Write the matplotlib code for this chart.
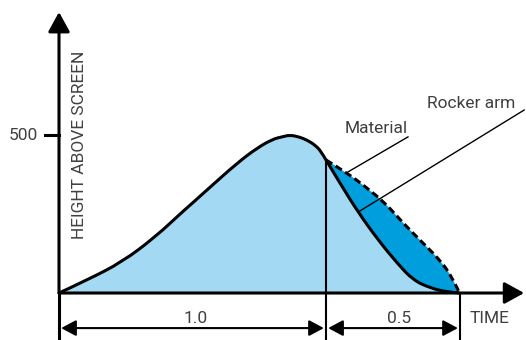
import matplotlib.pyplot as plt
from matplotlib.path import Path
from matplotlib.patches import PathPatch

# cam profile: height above screen vs time (rise, then fall back to the screen)
rise_t = [0.0, 0.105, 0.236, 0.360, 0.461, 0.491, 0.566, 0.667, 0.742, 0.801,
          0.835, 0.865, 0.899, 0.929, 0.959, 0.981, 1.0]
rise_h = [0, 41, 98, 177, 256, 278, 335, 411, 459, 487,
          494, 500, 494, 484, 468, 449, 421]

# material falling back (solid) and rocker arm return (dashed)
fall_t = [1.0, 1.052, 1.120, 1.195, 1.266, 1.326, 1.390, 1.453, 1.5]
fall_h = [421, 348, 256, 168, 95, 41, 16, 3, 0]
arm_t = [1.0, 1.079, 1.154, 1.221, 1.288, 1.363, 1.427, 1.472, 1.5]
arm_h = [421, 380, 332, 285, 222, 158, 104, 51, 0]

spans = [1.0, 0.5]
span_labels = ["1.0", "0.5"]
tick_value = 500

light = "#a3d9f2"
dark = "#009edc"
ink = "#404040"
fs = 12.5
plt.rcParams["font.family"] = ["Roboto", "DejaVu Sans"]


def smooth(ts, hs):
    # quadratic bezier through the midpoints, using each point as control
    pts = list(zip(ts, hs))
    verts = [pts[0]]
    codes = [Path.MOVETO]
    for i in range(1, len(pts) - 1):
        mid = ((pts[i][0] + pts[i + 1][0]) / 2, (pts[i][1] + pts[i + 1][1]) / 2)
        if i == len(pts) - 2:
            mid = pts[-1]
        verts += [pts[i], mid]
        codes += [Path.CURVE3, Path.CURVE3]
    return verts, codes


fig = plt.figure(figsize=(5.26, 3.40), dpi=100)
ax = fig.add_axes([0, 0, 1, 1])
ax.set_xlim(-0.221, 1.749)
ax.set_ylim(-148.7, 927.2)
ax.axis("off")

pv, pc = smooth(rise_t, rise_h)
fv, fc = smooth(fall_t, fall_h)
av, ac = smooth(arm_t, arm_h)

# light area under the material curve
verts = pv + fv[1:] + [(0, 0), (0, 0)]
codes = pc + fc[1:] + [Path.LINETO, Path.CLOSEPOLY]
ax.add_patch(PathPatch(Path(verts, codes), facecolor=light, lw=0))

# dark area between the material and the rocker arm
rv, rc = smooth(fall_t[::-1], fall_h[::-1])
verts = av + rv[1:] + [av[0]]
codes = ac + rc[1:] + [Path.CLOSEPOLY]
ax.add_patch(PathPatch(Path(verts, codes), facecolor=dark, lw=0))

t1 = spans[0]
t2 = spans[0] + spans[1]
ax.plot([t1, t1], [-148.7, rise_h[-1]], color="black", lw=1.5)
ax.plot([t2, t2], [-148.7, 0], color="black", lw=1.5)
ax.plot([0, 0], [-148.7, 0], color="black", lw=2.2)

ax.add_patch(PathPatch(Path(pv + fv[1:], pc + fc[1:]), fill=False,
                       edgecolor="black", lw=2.2, joinstyle="round"))
ax.add_patch(PathPatch(Path(av, ac), fill=False, edgecolor="black", lw=2.2,
                       linestyle=(0, (2.4, 1.3))))

# axes with arrowheads
head = dict(arrowstyle="-|>,head_length=0.6,head_width=0.33", mutation_scale=20,
            color="black", lw=2.2, shrinkA=0, shrinkB=0)
ax.annotate("", xy=(0, 889), xytext=(0, 0), arrowprops=head)
ax.annotate("", xy=(1.742, 0), xytext=(0, 0), arrowprops=head)

# tick at 500
ax.plot([-0.052, 0], [tick_value, tick_value], color="black", lw=2.2)
ax.text(-0.079, tick_value, str(tick_value), ha="right", va="center",
        fontsize=fs, color=ink)
ax.text(0.075, 470, "HEIGHT ABOVE SCREEN", rotation=90, ha="center",
        va="center", fontsize=fs, color=ink)

# dimension arrows under the time axis
dim = dict(arrowstyle="<|-|>,head_length=0.45,head_width=0.24", mutation_scale=20,
           color="black", lw=1.5, shrinkA=0, shrinkB=0)
ax.annotate("", xy=(0.008, -111), xytext=(t1 - 0.008, -111), arrowprops=dim)
ax.annotate("", xy=(t1 + 0.008, -111), xytext=(t2 - 0.006, -111), arrowprops=dim)
ax.text(0.51, -82, span_labels[0], ha="center", va="center", fontsize=fs, color=ink)
ax.text(1.275, -82, span_labels[1], ha="center", va="center", fontsize=fs, color=ink)
ax.text(1.539, -82, "TIME", ha="left", va="center", fontsize=fs, color=ink)

# callouts
ax.plot([1.307, 1.082], [494, 383], color="black", lw=1)
ax.plot([1.742, 1.120], [579, 256], color="black", lw=1)
ax.text(1.071, 522, "Material", ha="left", va="center", fontsize=fs, color=ink)
ax.text(1.378, 601, "Rocker arm", ha="left", va="center", fontsize=fs, color=ink)

fig.savefig("out.png", dpi=100)
